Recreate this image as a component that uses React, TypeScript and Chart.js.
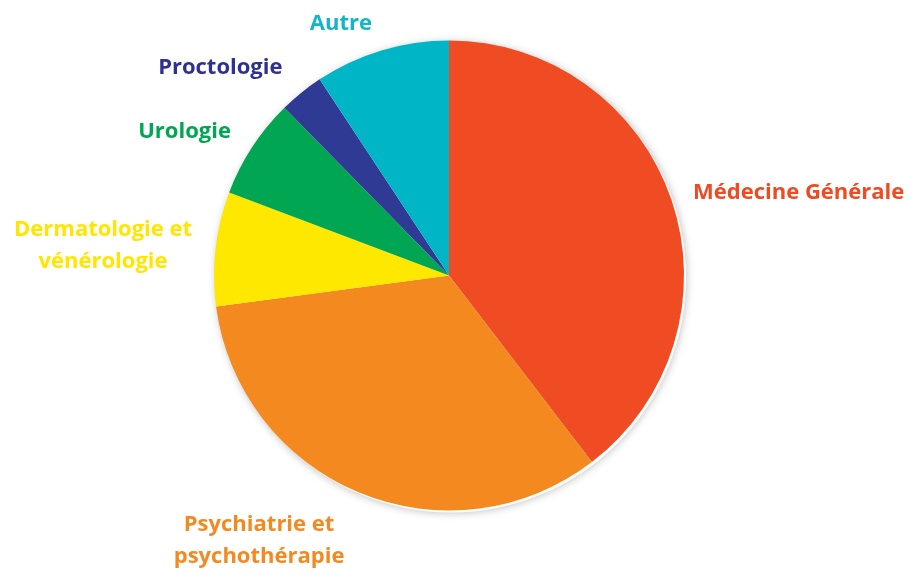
import React, { useEffect, useRef } from "react";
import { Chart, registerables } from "chart.js";

Chart.register(...registerables);

const categories: string[][] = [
  ["Médecine Générale"],
  ["Psychiatrie et", "psychothérapie"],
  ["Dermatologie et", "vénérologie"],
  ["Urologie"],
  ["Proctologie"],
  ["Autre"],
];
const values: number[] = [39.6, 33.3, 7.85, 6.9, 3.07, 9.28];
const sliceColors: string[] = ["#EF4C23", "#F48A1F", "#FFE800", "#00A651", "#2E3A94", "#00B6C6"];
const labelColors: string[] = ["#EE4B24", "#F28A23", "#FFE600", "#00A651", "#2E3192", "#14B5C8"];

// label placement relative to each slice's outer-edge midpoint
const labelOffsets: { dx: number; dy: number; align: CanvasTextAlign }[] = [
  { dx: 21.5, dy: -1, align: "left" },
  { dx: -100, dy: 38, align: "center" },
  { dx: -112.5, dy: -13, align: "center" },
  { dx: -67.6, dy: -9.5, align: "center" },
  { dx: -81, dy: -18.6, align: "center" },
  { dx: -40.5, dy: -20.4, align: "center" },
];

const labelPlugin = {
  id: "sliceLabels",
  beforeDatasetsDraw(chart: any) {
    const meta = chart.getDatasetMeta(0);
    const arc = meta.data[0];
    if (!arc) return;
    const { x, y, outerRadius } = arc.getProps(["x", "y", "outerRadius"], true);
    const ctx = chart.ctx;
    ctx.save();
    ctx.beginPath();
    ctx.arc(x + 2, y + 2, outerRadius, 0, Math.PI * 2);
    ctx.fillStyle = "#ffffff";
    ctx.shadowColor = "rgba(0,0,0,0.28)";
    ctx.shadowBlur = 9;
    ctx.shadowOffsetX = 0;
    ctx.shadowOffsetY = 0;
    ctx.fill();
    ctx.restore();
  },
  afterDatasetsDraw(chart: any) {
    const ctx = chart.ctx;
    const meta = chart.getDatasetMeta(0);
    meta.data.forEach((el: any, i: number) => {
      const { x, y, startAngle, endAngle, outerRadius } = el.getProps(
        ["x", "y", "startAngle", "endAngle", "outerRadius"],
        true
      );
      const mid = (startAngle + endAngle) / 2;
      const ax = x + Math.cos(mid) * outerRadius;
      const ay = y + Math.sin(mid) * outerRadius;
      const off = labelOffsets[i];
      ctx.save();
      ctx.font = "bold 22px 'Open Sans'";
      ctx.fillStyle = labelColors[i];
      ctx.textAlign = off.align;
      ctx.textBaseline = "alphabetic";
      categories[i].forEach((line, j) => {
        ctx.fillText(line, ax + off.dx, ay + off.dy + j * 32);
      });
      ctx.restore();
    });
  },
};

export default function App() {
  const ref = useRef<HTMLCanvasElement>(null);
  useEffect(() => {
    document.body.style.margin = "0";
    const chart = new Chart(ref.current!, {
      type: "pie",
      data: {
        labels: categories.map((c) => c.join(" ")),
        datasets: [
          {
            data: values,
            backgroundColor: sliceColors,
            borderWidth: 0,
          },
        ],
      },
      options: {
        responsive: false,
        animation: false,
        layout: { padding: { left: 214, right: 232, top: 40.5, bottom: 66.5 } },
        plugins: {
          legend: { display: false },
          tooltip: { enabled: false },
        },
      },
      plugins: [labelPlugin],
    });
    return () => chart.destroy();
  }, []);
  return (
    <div style={{ position: "absolute", left: 0, top: 0, width: 916, height: 577, background: "#fff" }}>
      <canvas ref={ref} width={916} height={577} />
    </div>
  );
}
